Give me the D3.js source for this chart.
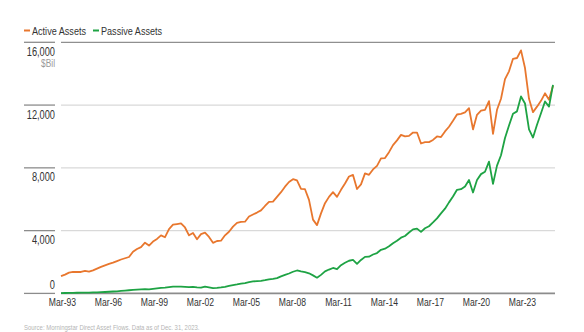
<!DOCTYPE html>
<html>
<head>
<meta charset="utf-8">
<script src="https://cdn.jsdelivr.net/npm/d3@7"></script>
<style>
  html, body { margin: 0; padding: 0; background: #fff; }
  svg { display: block; }
  text { font-family: "Liberation Sans", Arial, sans-serif; }
</style>
</head>
<body>
<svg id="chart" width="584" height="332"></svg>
<script>
// Quarterly values, Mar-93 .. Dec-23 ($Bil)
const activeAssets = [
  1100,1200,1320,1365,1370,1365,1430,1385,1470,1580,
  1690,1790,1880,1960,2060,2160,2240,2320,2650,2830,
  2950,3230,3050,3300,3470,3700,3580,4100,4380,4420,
  4460,4200,3700,3850,3450,3780,3870,3600,3220,3340,
  3360,3700,3930,4255,4500,4555,4570,4900,5030,5150,
  5290,5570,5830,5850,6150,6450,6800,7100,7280,7200,
  6660,6640,5960,4700,4350,5100,5750,6150,6450,6150,
  6600,7000,7450,7550,6650,6950,7650,7555,7900,8130,
  8600,8620,9000,9450,9750,10100,10000,10040,10250,10250,
  9550,9640,9640,9780,10000,9960,10320,10620,11000,11400,
  11445,11530,11800,10450,11380,11650,11700,12250,10170,11700,
  12400,13650,14150,14950,15000,15485,14360,12400,11550,11900,
  12270,12750,12340,13230
];
const passiveAssets = [
  20,25,30,35,40,45,50,55,60,70,
  80,90,105,120,135,160,180,200,220,240,
  260,270,260,290,320,350,370,400,430,430,
  430,410,395,420,390,370,430,380,330,350,
  380,420,480,530,570,620,660,720,760,780,
  800,840,900,930,970,1080,1175,1270,1380,1460,
  1400,1350,1280,1150,1000,1180,1400,1520,1620,1540,
  1800,1950,2080,2130,1880,2130,2330,2340,2480,2570,
  2780,2850,3000,3200,3350,3550,3660,3880,4080,4125,
  3920,4150,4280,4520,4780,5100,5400,5800,6170,6600,
  6640,6810,7230,6430,7230,7600,7750,8400,6980,8140,
  8800,9900,10700,11450,11600,12550,12100,10450,9930,10750,
  11480,12230,11900,13290
];
const xTickLabels = ["Mar-93","Mar-96","Mar-99","Mar-02","Mar-05","Mar-08","Mar-11","Mar-14","Mar-17","Mar-20","Mar-23"];
const yTicks = [0, 4000, 8000, 12000, 16000];
const seriesNames = ["Active Assets", "Passive Assets"];
const seriesColors = ["#e8772e", "#1ea344"];
const sourceNote = "Source: Morningstar Direct Asset Flows. Data as of Dec. 31, 2023.";

const svg = d3.select("#chart");
const plotLeft = 61, plotRight = 555;
const SX = 0.77; // horizontal condensing of text

const x = d3.scaleLinear().domain([0, activeAssets.length - 1]).range([61, 553]);
const xLab = d3.scalePoint().domain(xTickLabels).range([62, 522]);
const y = d3.scaleLinear().domain([0, 16000]).range([293.4, 42.3]);

function ctext(g, tx, ty, sx) {
  return g.append("text").attr("x", 0).attr("y", 0)
    .attr("transform", `translate(${tx},${ty}) scale(${sx},1)`);
}

// gridlines
const grid = svg.append("g");
grid.selectAll("line.grid").data(yTicks).join("line")
  .attr("class", "grid")
  .attr("x1", plotLeft).attr("x2", plotRight)
  .attr("y1", d => y(d)).attr("y2", d => y(d))
  .attr("stroke", d => d === 0 ? "#8c8c8c" : (d === 16000 ? "#8f8f8f" : "#d9d9d9"))
  .attr("stroke-width", d => d === 0 ? 1.6 : 1.3);
grid.selectAll("line.tickmark").data(yTicks).join("line")
  .attr("class", "tickmark")
  .attr("x1", 24).attr("x2", 55)
  .attr("y1", d => y(d)).attr("y2", d => y(d))
  .attr("stroke", "#8c8c8c").attr("stroke-width", 1.3);
yTicks.forEach(d => {
  ctext(svg, 55, d === 0 ? y(d) - 4 : y(d) + 13.5, SX)
    .attr("text-anchor", "end")
    .attr("font-size", 12)
    .attr("fill", "#333")
    .text(d3.format(",")(d));
});
ctext(svg, 55, y(16000) + 24.5, 0.76)
  .attr("text-anchor", "end").attr("font-size", 11).attr("fill", "#999")
  .text("$Bil");

// x axis labels
const xAxis = d3.axisBottom(xLab).tickSize(0).tickPadding(0);
const xg = svg.append("g").attr("transform", "translate(0,298)").call(xAxis);
xg.select(".domain").remove();
xg.selectAll("text")
  .attr("font-size", 11.5)
  .attr("fill", "#333")
  .attr("dy", "0.71em")
  .attr("transform", "scale(0.75,1)")
  .style("font-family", '"Liberation Sans", Arial, sans-serif');

// lines
const line = d3.line().x((d, i) => x(i)).y(d => y(d)).curve(d3.curveLinear);
[activeAssets, passiveAssets].forEach((arr, k) => {
  svg.append("path").datum(arr)
    .attr("d", line)
    .attr("fill", "none")
    .attr("stroke", seriesColors[k])
    .attr("stroke-width", 1.8)
    .attr("stroke-linejoin", "round");
});

// legend
const legendX = [24, 93];
seriesNames.forEach((name, k) => {
  svg.append("line")
    .attr("x1", legendX[k]).attr("x2", legendX[k] + 6)
    .attr("y1", 30.5).attr("y2", 30.5)
    .attr("stroke", seriesColors[k]).attr("stroke-width", 2);
  ctext(svg, legendX[k] + 8, 34.5, 0.79)
    .attr("font-size", 11.5).attr("fill", "#333")
    .text(name);
});

// source
ctext(svg, 24, 329.5, 0.83)
  .attr("font-size", 7.2).attr("fill", "#b5b5b5")
  .text(sourceNote);
</script>
</body>
</html>
